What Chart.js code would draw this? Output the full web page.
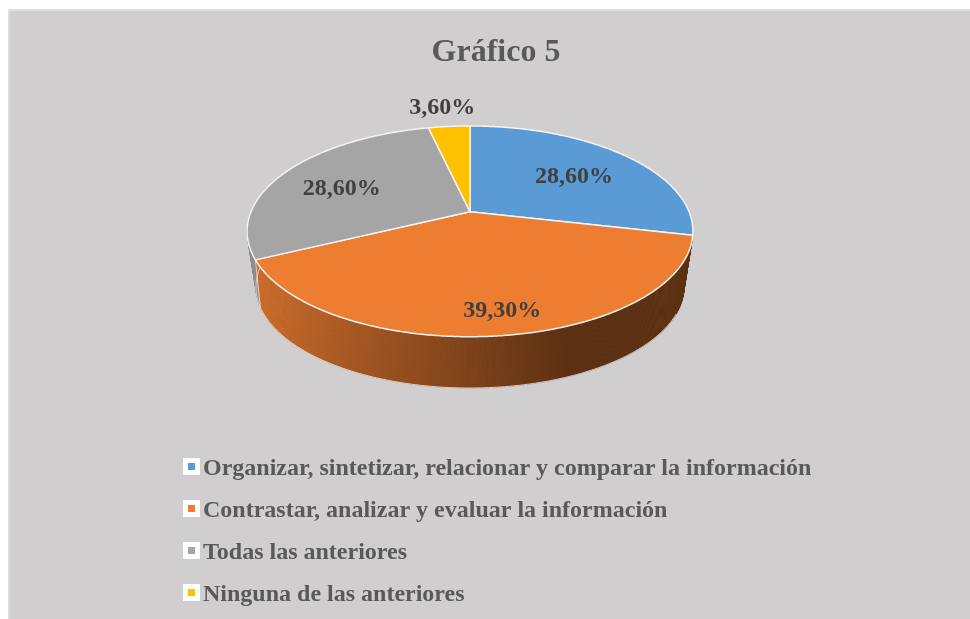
<!DOCTYPE html>
<html>
<head>
<meta charset="utf-8">
<style>html,body{margin:0;padding:0;background:#fff}canvas{display:block}</style>
<script src="https://cdn.jsdelivr.net/npm/chart.js@4"></script>
</head>
<body>
<canvas id="c" width="970" height="619"></canvas>
<script>
const titleText = 'Gráfico 5';
const categories = [
  'Organizar, sintetizar, relacionar y comparar la información',
  'Contrastar, analizar y evaluar la información',
  'Todas las anteriores',
  'Ninguna de las anteriores'
];
const values = [28.6, 39.3, 28.6, 3.6];
const sliceColors = ['#5b9bd5', '#ed7d31', '#a5a5a5', '#ffc000'];
const sliceRgb = [[91,155,213],[237,125,49],[165,165,165],[255,192,0]];

const SERIF = '"Liberation Serif","Times New Roman",serif';

/* tilted-disc projection of the pie */
const view = {cx:470, cy:211.7, a:219, b:101.7, k:-0.1865, wallScale:0.96, wallCy:268, warp:5*Math.PI/180};
function project(t, f, s, cy){
  const u = Math.cos(t)*f, v = Math.sin(t)*f, d = 1 + view.k*v;
  return [view.cx + s*view.a*u/d, cy + s*view.b*v/d];
}
const top3d = (t,f=1)=>project(t,f,1,view.cy);
const bot3d = t=>project(t - view.warp*Math.sin(2*t),1,view.wallScale,view.wallCy);
function shade(x){
  const p = Math.min(1,Math.max(0,(x-260)/300));
  return 0.85 - 0.46*p;
}

const pie3d = {
  id:'pie3d',
  beforeDraw(chart){
    const c = chart.ctx;
    c.save();
    c.fillStyle = '#dedddd';
    c.fillRect(8,9,962,610);
    c.fillStyle = '#d0cece';
    c.fillRect(10,11,960,608);
    c.restore();
  },
  beforeDatasetsDraw(chart, args, opts){
    const c = chart.ctx;
    const arcs = chart.getDatasetMeta(0).data;
    const step = Math.PI/360;
    c.save();
    /* side wall: only the slices facing the viewer, back to front */
    const strips = [];
    arcs.forEach((arc,i)=>{
      if(!opts.wallSlices.includes(i)) return;
      for(let t=arc.startAngle; t<arc.endAngle; t+=step){
        if(Math.sin(t) < -0.25) continue;
        strips.push([t, Math.min(t+step*1.2,arc.endAngle), i]);
      }
    });
    strips.sort((p,q)=>Math.sin(p[0])-Math.sin(q[0]));
    strips.forEach(([t0,t1,i])=>{
      const A=top3d(t0),B=top3d(t1),C=bot3d(t1),D=bot3d(t0);
      const f=shade((A[0]+B[0])/2);
      const col=`rgb(${sliceRgb[i].map(x=>Math.round(x*f)).join(',')})`;
      c.fillStyle=col; c.strokeStyle=col; c.lineWidth=0.6;
      c.beginPath(); c.moveTo(...A); c.lineTo(...B); c.lineTo(...C); c.lineTo(...D); c.closePath();
      c.fill(); c.stroke();
    });
    /* wall bottom rim */
    c.strokeStyle='rgba(240,240,240,0.8)'; c.lineWidth=1;
    c.beginPath();
    const rimFrom=Math.PI/6, rimTo=Math.PI*1.03;
    for(let t=rimFrom;t<=rimTo;t+=step){const p=bot3d(t); t===rimFrom?c.moveTo(...p):c.lineTo(...p);}
    c.lineTo(...top3d(rimTo));
    c.stroke();
    /* seam between walls */
    const seam = arcs[1].endAngle;
    c.beginPath(); c.moveTo(...top3d(seam)); c.lineTo(...bot3d(seam)); c.stroke();
    /* top face */
    arcs.forEach((arc,i)=>{
      c.beginPath();
      c.moveTo(view.cx,view.cy);
      for(let t=arc.startAngle;t<arc.endAngle;t+=step) c.lineTo(...top3d(t));
      c.lineTo(...top3d(arc.endAngle));
      c.closePath();
      c.fillStyle=arc.options.backgroundColor;
      c.fill();
      c.strokeStyle='#f4f4f4'; c.lineWidth=1.5; c.lineJoin='round';
      c.stroke();
    });
    /* value labels */
    c.font=`bold ${opts.labelSize}px ${SERIF}`;
    c.fillStyle='#404040'; c.textAlign='center'; c.textBaseline='middle';
    arcs.forEach((arc,i)=>{
      const mid=(arc.startAngle+arc.endAngle)/2;
      const p=top3d(mid,opts.labelReach[i]);
      const txt=values[i].toFixed(2).replace('.',',')+'%';
      c.fillText(txt,p[0]+opts.labelNudge[i][0],p[1]+opts.labelNudge[i][1]);
    });
    c.restore();
    return false;
  },
  afterDraw(chart, args, opts){
    const c=chart.ctx;
    c.save();
    c.font=`bold ${opts.legendSize}px ${SERIF}`;
    c.textAlign='left'; c.textBaseline='alphabetic';
    categories.forEach((name,i)=>{
      const y=opts.legendTop+i*opts.legendGap;
      c.fillStyle='#ffffff'; c.fillRect(183,y,17,17);
      c.fillStyle=sliceColors[i]; c.fillRect(188,y+5,7,7);
      c.fillStyle='#595959'; c.fillText(name,203,y+17);
    });
    c.restore();
  }
};

new Chart(document.getElementById('c'),{
  type:'pie',
  data:{labels:categories,datasets:[{data:values,backgroundColor:sliceColors,borderWidth:0}]},
  plugins:[pie3d],
  options:{
    responsive:false,
    animation:false,
    layout:{padding:{left:22}},
    plugins:{
      legend:{display:false},
      tooltip:{enabled:false},
      title:{display:true,text:titleText,color:'#595959',
        font:{family:SERIF,size:32,weight:'bold'},padding:{top:33.5,bottom:10}},
      pie3d:{labelSize:24,labelReach:[0.64,0.8,0.68,1.29],wallSlices:[1,2],
        labelNudge:[[2,3],[9,4],[-1,5],[-2,1]],
        legendSize:24,legendTop:458,legendGap:42}
    }
  }
});
</script>
</body>
</html>
